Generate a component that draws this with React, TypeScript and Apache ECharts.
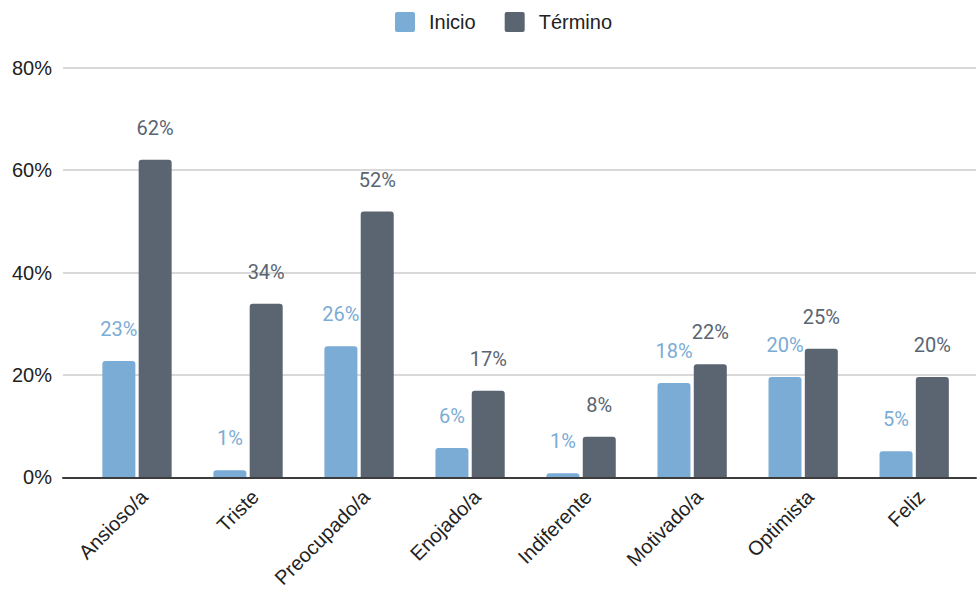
import React, { useEffect, useRef } from "react";
import * as echarts from "echarts";

const categories = ["Ansioso/a", "Triste", "Preocupado/a", "Enojado/a", "Indiferente", "Motivado/a", "Optimista", "Feliz"];
const inicio = [22.7, 1.4, 25.6, 5.7, 0.8, 18.4, 19.6, 5.1];
const termino = [62.0, 33.9, 51.9, 16.9, 7.9, 22.1, 25.1, 19.6];
const seriesNames = ["Inicio", "Término"];
const colors = ["#7BACD5", "#5A6571"];
const yMin = 0;
const yMax = 80;
const yInterval = 20;

export default function App() {
  const ref = useRef<HTMLDivElement>(null);
  useEffect(() => {
    if (!ref.current) return;
    const chart = echarts.init(ref.current, null, { renderer: "svg" });
    const axisFont = "'Liberation Sans', Arial, sans-serif";
    const labelFont = "Roboto, sans-serif";
    const top = 67.7;
    const bottom = 113.7;
    chart.setOption({
      animation: false,
      legend: {
        left: 390,
        top: 7,
        itemWidth: 20,
        itemHeight: 20,
        itemGap: 29,
        icon: "path://M2,0 H18 Q20,0 20,2 V18 Q20,20 18,20 H2 Q0,20 0,18 V2 Q0,0 2,0 Z",
        textStyle: { fontFamily: axisFont, fontSize: 20, color: "#222", padding: [0, 0, 0, 9] },
        data: seriesNames,
      },
      grid: [
        { left: 81.5, right: 8.3, top, bottom, containLabel: false, outerBoundsMode: "none" },
        { left: 63, right: 2, top, bottom, containLabel: false, outerBoundsMode: "none" },
      ],
      xAxis: [
        {
          type: "category",
          gridIndex: 0,
          data: categories,
          axisLine: { show: false },
          axisTick: { show: false },
          axisLabel: {
            rotate: 45,
            margin: 9,
            verticalAlign: "top",
            fontFamily: axisFont,
            fontSize: 20,
            color: "#222",
            interval: 0,
          },
        },
        {
          type: "value",
          gridIndex: 1,
          min: 0,
          max: 1,
          z: 5,
          axisLine: { show: true, lineStyle: { color: "#3c3c3c", width: 2 } },
          axisTick: { show: false },
          axisLabel: { show: false },
          splitLine: { show: false },
        },
      ],
      yAxis: [
        {
          type: "value",
          gridIndex: 0,
          min: yMin,
          max: yMax,
          interval: yInterval,
          axisLabel: { show: false },
          axisLine: { show: false },
          axisTick: { show: false },
          splitLine: { show: false },
        },
        {
          type: "value",
          gridIndex: 1,
          min: yMin,
          max: yMax,
          interval: yInterval,
          axisLine: { show: false },
          axisTick: { show: false },
          axisLabel: {
            formatter: "{value}%",
            fontFamily: axisFont,
            fontSize: 20,
            color: "#222",
            margin: 11,
          },
          splitLine: { show: true, lineStyle: { color: "#cccccc", width: 1.5 } },
        },
      ],
      series: [inicio, termino].map((d, i) => ({
        name: seriesNames[i],
        type: "bar",
        xAxisIndex: 0,
        yAxisIndex: 0,
        data: d,
        barWidth: 33,
        barGap: "10%",
        itemStyle: { color: colors[i], borderRadius: [3, 3, 0, 0] },
        label: {
          show: true,
          position: "top",
          distance: 22,
          fontFamily: labelFont,
          fontSize: 20,
          color: colors[i],
          formatter: (p: any) => Math.round(p.value) + "%",
        },
      })),
    });
    return () => chart.dispose();
  }, []);
  return <div ref={ref} style={{ width: 978, height: 591, position: "absolute", left: 0, top: 0 }} />;
}
